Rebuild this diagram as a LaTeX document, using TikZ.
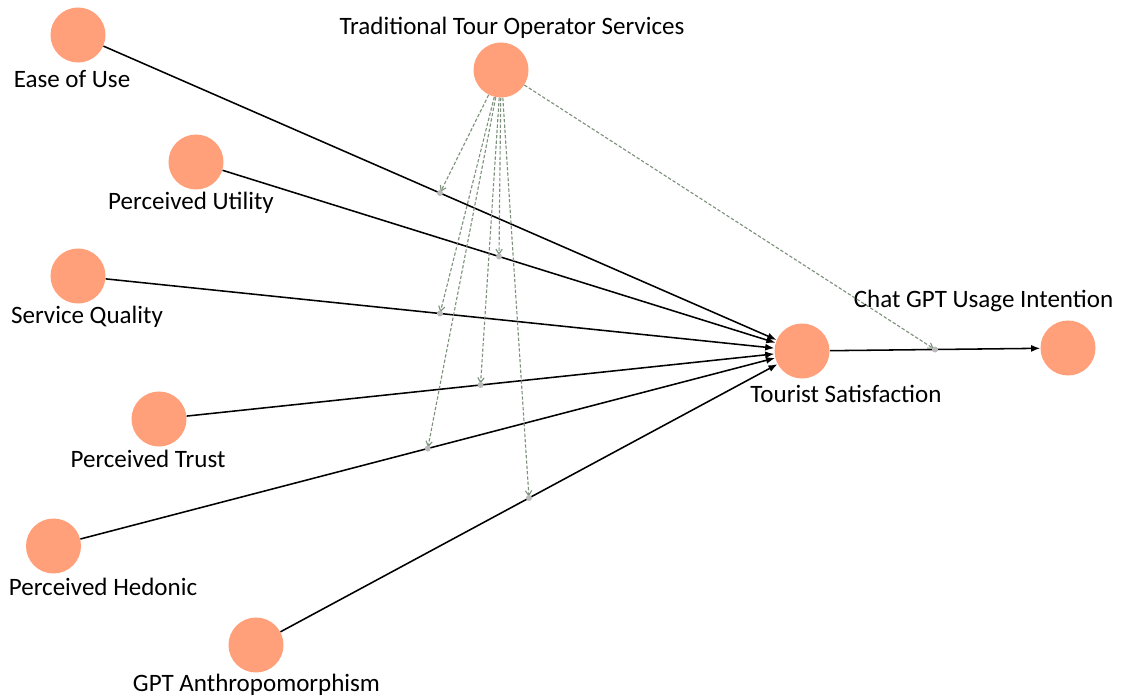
\documentclass[tikz,border=0pt]{standalone}
\usepackage{fontspec}
\setmainfont{Carlito}
\usepackage{tikz}
\usetikzlibrary{arrows.meta,calc}
\definecolor{nodeSalmon}{RGB}{255,160,122}
\definecolor{modGreen}{RGB}{125,145,125}
\definecolor{dotGray}{RGB}{185,185,185}

\begin{document}
\begin{tikzpicture}[x=0.025cm, y=-0.025cm,
  construct/.style={circle, fill=nodeSalmon, minimum size=1.375cm, inner sep=0pt},
  lbl/.style={anchor=base, inner sep=0pt, font=\fontsize{17.8pt}{21pt}\selectfont},
  effect/.style={black, line width=1.1pt, -{Latex[length=6.5pt,width=5pt]}},
  moderate/.style={modGreen, line width=0.8pt, dash pattern=on 2.4pt off 1.4pt, shorten >=1pt, -{Straight Barb[length=3.5pt,width=4.5pt]}}]
\useasboundingbox (0,0) rectangle (1136,697);

\node[construct] (ts) at (802,351) {};
\node[lbl] (ts-lbl) at (846,402) {Tourist Satisfaction};
\node[construct] (cgui) at (1068,348) {};
\node[lbl] (cgui-lbl) at (983.5,307) {Chat GPT Usage Intention};
\node[construct] (tto) at (501,70) {};
\node[lbl] (tto-lbl) at (512,34) {Traditional Tour Operator Services};

\foreach \name/\x/\y/\lx/\ly/\txt in {eou/78/35/72/87/Ease of Use,
    pu/196/162/191/209/Perceived Utility,
    sq/78/276/87/323/Service Quality,
    pt/159/419/148/467/Perceived Trust,
    ph/53.5/546/103/595/Perceived Hedonic,
    gpt/256/645/256.5/691/GPT Anthropomorphism}
{
    \node[construct] (\name) at (\x,\y) {};
    \node[lbl] (\name-lbl) at (\lx,\ly) {\txt};
    \draw[effect] (\name) -- (ts) coordinate[midway] (\name-mid);
}
\draw[effect] (ts) -- (cgui) coordinate[midway] (ts-mid);

% moderating effects of the tour operator
\foreach \name in {eou,pu,sq,pt,ph,gpt,ts}
{
    \draw[moderate] (tto) -- (\name-mid);
    \fill[dotGray] (\name-mid) circle (3);
}
\end{tikzpicture}
\end{document}
